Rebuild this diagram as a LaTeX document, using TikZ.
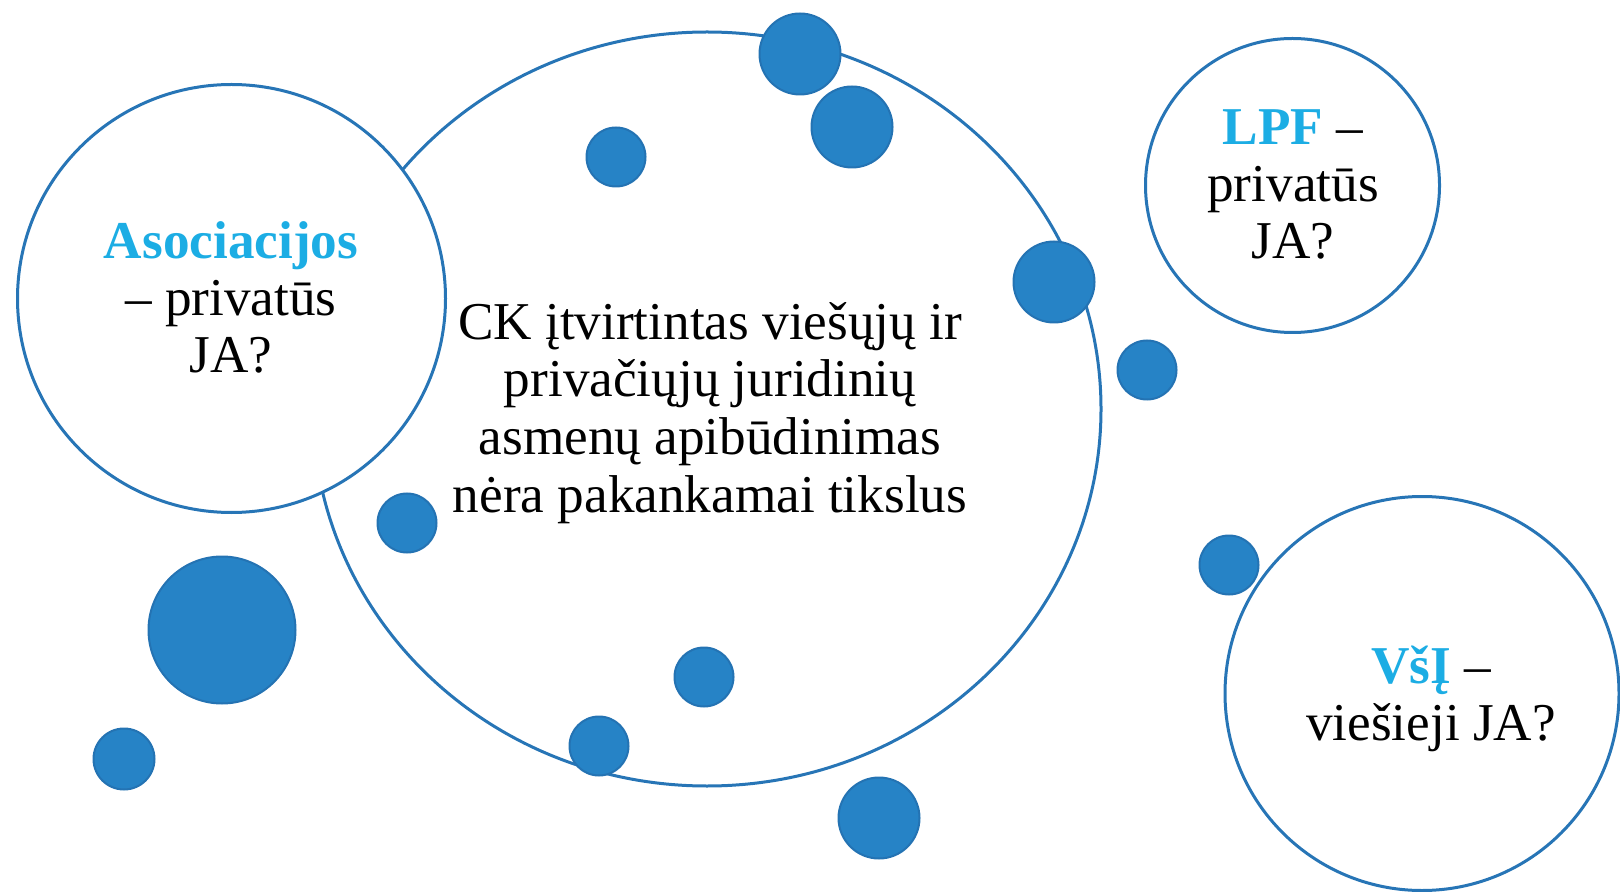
\documentclass[tikz,border=0pt]{standalone}
\usepackage{fontspec}
\setmainfont{Liberation Serif}
\usetikzlibrary{shapes.geometric}
\definecolor{ringblue}{HTML}{2775B6}
\definecolor{dotfill}{HTML}{2683C6}
\definecolor{dotedge}{HTML}{2473B3}
\definecolor{accent}{HTML}{1CADE4}
\begin{document}
\begin{tikzpicture}[x=0.5pt,y=-0.5pt,
  ring/.style={circle, draw=ringblue, line width=1.5pt, fill=white, inner sep=0pt, minimum size=#1},
  oval/.style={ellipse, draw=ringblue, line width=1.5pt, inner sep=0pt},
  dot/.style={circle, draw=dotedge, fill=dotfill, line width=1pt, inner sep=0pt, minimum size=#1},
  txt/.style={anchor=base, inner sep=0pt, font=\fontsize{26.6}{28.5}\selectfont},
  hl/.style={font=\bfseries, text=accent}]
\useasboundingbox (0,0) rectangle (1620,892);
\begin{scope}
\clip (0,0) rectangle (1620,892);
% big ellipse
\node[oval, minimum width=394pt, minimum height=377pt] (ck) at (707,409) {};
% rings
\node[ring=214pt] (asoc) at (231.5,298.5) {};
\node[ring=147pt] (lpf) at (1292.5,185.5) {};
\node[ring=197pt] (vsi) at (1422,693.5) {};
% dots
\node[dot=40.5pt] (d1) at (800,54) {};
\node[dot=40.5pt] (d2) at (852,127) {};
\node[dot=29.5pt] (d3) at (616,157) {};
\node[dot=40.5pt] (d4) at (1054,282) {};
\node[dot=29.5pt] (d5) at (1147,370) {};
\node[dot=29.5pt] (d6) at (407,523) {};
\node[dot=73.5pt] (d7) at (222,630) {};
\node[dot=30.5pt] (d8) at (124,759) {};
\node[dot=29.5pt] (d9) at (704,677) {};
\node[dot=29.5pt] (d10) at (599,746) {};
\node[dot=40.5pt] (d11) at (879,818) {};
\node[dot=29.5pt] (d12) at (1229,565) {};
\end{scope}
% texts
\node[txt] (a1) at (231,259) {\textcolor{accent}{\bfseries Asociacijos}};
\node[txt] (a2) at (231,316) {– privatūs};
\node[txt] (a3) at (231,373) {JA?};
\node[txt] (c1) at (710,340) {CK įtvirtintas viešųjų ir};
\node[txt] (c2) at (710,397) {privačiųjų juridinių};
\node[txt] (c3) at (710,454) {asmenų apibūdinimas};
\node[txt] (c4) at (710,512) {nėra pakankamai tikslus};
\node[txt] (l1) at (1293,145) {\textcolor{accent}{\bfseries LPF} –};
\node[txt] (l2) at (1293,202) {privatūs};
\node[txt] (l3) at (1293,259) {JA?};
\node[txt] (v1) at (1431,683) {\textcolor{accent}{\bfseries VšĮ} –};
\node[txt] (v2) at (1431,740) {viešieji JA?};
\end{tikzpicture}
\end{document}
